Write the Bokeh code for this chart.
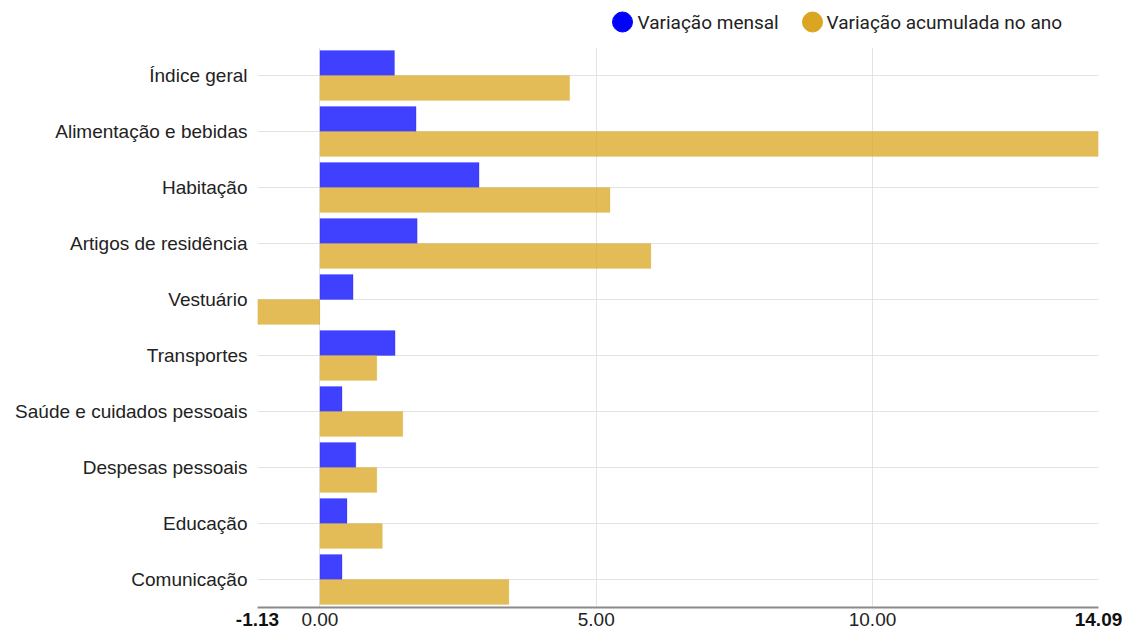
from bokeh.plotting import figure
from bokeh.layouts import column
from bokeh.models import ColumnDataSource, FactorRange, Range1d, FixedTicker
from bokeh.core.properties import value
from bokeh.transform import dodge
from bokeh.embed import file_html
from bokeh.resources import INLINE

# IPCA-style breakdown by group: monthly change and year-to-date change (%)
categories = ["Índice geral", "Alimentação e bebidas", "Habitação",
              "Artigos de residência", "Vestuário", "Transportes",
              "Saúde e cuidados pessoais", "Despesas pessoais", "Educação",
              "Comunicação"]
mensal = [1.35, 1.74, 2.88, 1.76, 0.60, 1.36, 0.40, 0.65, 0.49, 0.40]
acumulada = [4.52, 14.09, 5.25, 5.99, -1.13, 1.03, 1.50, 1.03, 1.13, 3.42]
series_names = ["Variação mensal", "Variação acumulada no ano"]
grid_ticks = [0.0, 5.0, 10.0]

BLUE = "#0000ff"
GOLD = "#daa520"
TEXT = "#222222"
GRID = "#e3e3e3"

W = 1130
LEFT, RIGHT = 257, 32
TOP_H, FRAME_H, BOTTOM_H = 47, 560, 25

all_vals = mensal + acumulada
x_min, x_max = min(all_vals), max(all_vals)


def strip(height, x_range, y_range):
    fig = figure(width=W, height=height, x_range=x_range, y_range=y_range,
                 min_border=0, x_axis_type=None, y_axis_type=None,
                 output_backend="svg", toolbar_location=None)
    fig.frame_align = False
    fig.outline_line_color = None
    fig.xgrid.visible = False
    fig.ygrid.visible = False
    return fig


# ---- legend strip (coordinates in pixels of this strip) -----------------
top = strip(TOP_H, Range1d(0, W), Range1d(TOP_H, 0))
legend_src = ColumnDataSource(dict(
    cx=[622, 812], tx=[637, 826], y=[21.5, 21.5],
    color=[BLUE, GOLD], label=series_names,
))
top.scatter(x="cx", y="y", marker="circle", size=20, fill_color="color",
            line_color="color", source=legend_src)
top.text(x="tx", y="y", text="label", source=legend_src, text_align="left",
         text_baseline="middle", text_font=value("Roboto"),
         text_font_size="19px", text_color=TEXT)

# ---- main bar chart -----------------------------------------------------
src = ColumnDataSource(dict(cat=categories, mensal=mensal, acumulada=acumulada,
                            zero=[0.0] * len(categories)))

p = figure(y_range=FactorRange(factors=categories[::-1], range_padding=0),
           x_range=Range1d(x_min, x_max),
           width=W, height=FRAME_H + 2,
           min_border_left=LEFT, min_border_right=RIGHT,
           min_border_top=0, min_border_bottom=2,
           output_backend="svg", toolbar_location=None)
p.frame_align = False
p.outline_line_color = None

bar_h = 0.446
p.hbar(y=dodge("cat", bar_h / 2, range=p.y_range), left="zero", right="mensal",
       height=bar_h, fill_color=BLUE, fill_alpha=0.75,
       line_color=BLUE, line_alpha=0.15, line_width=1, source=src)
p.hbar(y=dodge("cat", -bar_h / 2, range=p.y_range), left="zero", right="acumulada",
       height=bar_h, fill_color=GOLD, fill_alpha=0.75,
       line_color=GOLD, line_alpha=0.15, line_width=1, source=src)

# bottom axis: line only, its labels are set in the strip below
p.xaxis.ticker = FixedTicker(ticks=[])
p.xaxis.axis_line_color = "#8a8a8a"
p.xaxis.axis_line_width = 2
p.xaxis.major_tick_line_color = None
p.xaxis.minor_tick_line_color = None
p.xaxis.major_tick_out = 0
p.xaxis.major_label_standoff = 0

p.yaxis.axis_line_color = None
p.yaxis.major_tick_line_color = None
p.yaxis.minor_tick_line_color = None
p.yaxis.major_tick_out = 0
p.yaxis.major_label_standoff = 10
p.yaxis.major_label_text_font = "Liberation Sans"
p.yaxis.major_label_text_font_size = "19px"
p.yaxis.major_label_text_color = TEXT

p.xgrid.ticker = FixedTicker(ticks=grid_ticks)
p.xgrid.grid_line_color = GRID
p.ygrid.grid_line_color = GRID

# ---- x tick labels strip (range extremes in bold) -----------------------
px_per_unit = (W - LEFT - RIGHT) / (x_max - x_min)
bottom = strip(BOTTOM_H,
               Range1d(x_min - LEFT / px_per_unit, x_max + RIGHT / px_per_unit),
               Range1d(BOTTOM_H, 0))
tick_vals = [x_min] + grid_ticks + [x_max]
extreme = [v in (x_min, x_max) for v in tick_vals]
tick_src = ColumnDataSource(dict(
    x=tick_vals,
    y=[3.0] * len(tick_vals),
    label=[f"{v:.2f}" for v in tick_vals],
    style=["bold" if e else "normal" for e in extreme],
    color=["#111111" if e else TEXT for e in extreme],
))
bottom.text(x="x", y="y", text="label", source=tick_src, text_align="center",
            text_baseline="top", text_font=value("Liberation Sans"),
            text_font_size="19px", text_font_style="style", text_color="color")

layout = column(top, p, bottom, spacing=0)
open("out.html", "w").write(file_html(layout, INLINE))
